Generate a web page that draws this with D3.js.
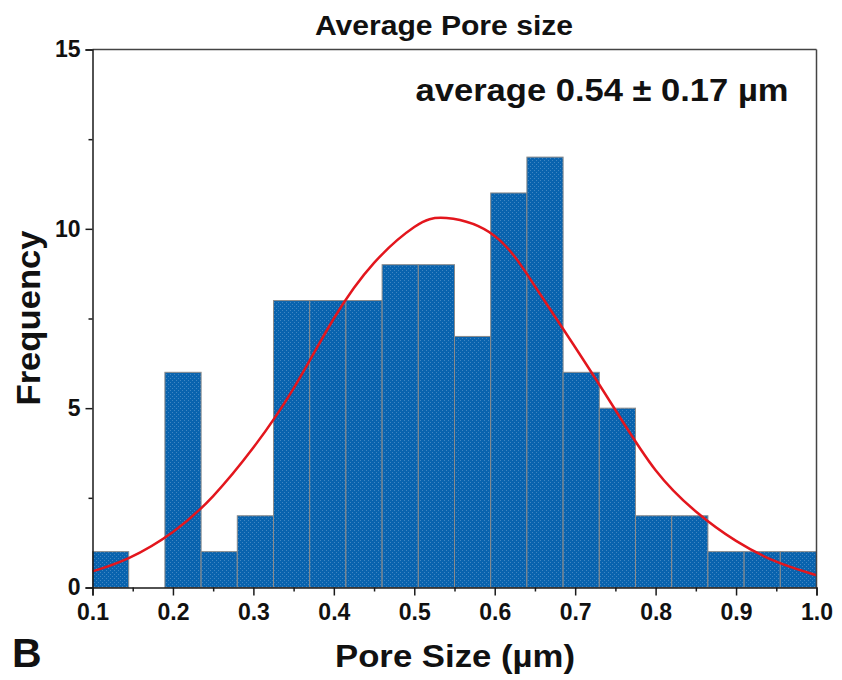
<!DOCTYPE html>
<html>
<head>
<meta charset="utf-8">
<script src="https://cdn.jsdelivr.net/npm/d3@7"></script>
<style>
  body { margin: 0; background: #fff; }
  text { font-family: "Liberation Sans", Arial, sans-serif; font-weight: bold; fill: #111; }
</style>
</head>
<body>
<script>
// histogram bins (pore size, um) and counts
var binEdges = [0.1, 0.145, 0.19, 0.235, 0.28, 0.325, 0.37, 0.415, 0.46, 0.505, 0.55,
                0.595, 0.64, 0.685, 0.73, 0.775, 0.82, 0.865, 0.91, 0.955, 1.0];
var counts = [1, 0, 6, 1, 2, 8, 8, 8, 9, 9, 7, 11, 12, 6, 5, 2, 2, 1, 1, 1];

// fitted curve
var fitX = [0.1, 0.145, 0.2, 0.25, 0.3, 0.35, 0.4, 0.45, 0.5, 0.54, 0.6, 0.65, 0.7, 0.75, 0.8, 0.85, 0.9, 0.95, 1.0];
var fitY = [0.45, 0.82, 1.55, 2.55, 3.9, 5.55, 7.5, 9.05, 10.05, 10.3, 9.8, 8.4, 6.7, 4.95, 3.27, 2.12, 1.3, 0.72, 0.34];

var xMajor = [0.1, 0.2, 0.3, 0.4, 0.5, 0.6, 0.7, 0.8, 0.9, 1.0];
var xMinor = [0.15, 0.25, 0.35, 0.45, 0.55, 0.65, 0.75, 0.85, 0.95];
var yMajor = [0, 5, 10, 15];
var yMinor = [2.5, 7.5, 12.5];

var W = 842, H = 680;
var svg = d3.select("body").append("svg").attr("width", W).attr("height", H);

var x = d3.scaleLinear().domain([0.1, 1.0]).range([92.5, 816.5]);
var y = d3.scaleLinear().domain([0, 15]).range([587.5, 49.5]);

///////////////////////////
// DOTTED FILL PATTERN
var defs = svg.append("defs");
var pat = defs.append("pattern")
  .attr("id", "dots")
  .attr("width", 4).attr("height", 4)
  .attr("patternUnits", "userSpaceOnUse");
pat.append("rect").attr("width", 4).attr("height", 4).attr("fill", "#0963ae");
pat.append("rect").attr("x", 0).attr("y", 0).attr("width", 1).attr("height", 1).attr("fill", "#3f86c2");
pat.append("rect").attr("x", 2).attr("y", 2).attr("width", 1).attr("height", 1).attr("fill", "#3f86c2");

///////////////////////////
// BARS
var bins = counts.map(function(c, i){ return {x0: binEdges[i], x1: binEdges[i+1], n: c}; });
svg.append("g")
  .selectAll("rect")
  .data(bins.filter(function(d){ return d.n > 0; }))
  .enter()
  .append("rect")
  .attr("x", function(d){ return x(d.x0); })
  .attr("y", function(d){ return y(d.n); })
  .attr("width", function(d){ return x(d.x1) - x(d.x0); })
  .attr("height", function(d){ return y(0) - y(d.n); })
  .attr("fill", "url(#dots)")
  .attr("stroke", "#8a8a8a")
  .attr("stroke-width", 1);

///////////////////////////
// FIT CURVE
var line = d3.line()
  .x(function(d, i){ return x(fitX[i]); })
  .y(function(d){ return y(d); })
  .curve(d3.curveNatural);
svg.append("path")
  .attr("d", line(fitY))
  .attr("fill", "none")
  .attr("stroke", "#e3161d")
  .attr("stroke-width", 2.5);

///////////////////////////
// FRAME + AXES
svg.append("line").attr("x1", x(0.1)).attr("x2", x(1.0)).attr("y1", y(15)).attr("y2", y(15))
  .attr("stroke", "#444").attr("stroke-width", 1.5);
svg.append("line").attr("x1", x(1.0)).attr("x2", x(1.0)).attr("y1", y(15)).attr("y2", y(0))
  .attr("stroke", "#444").attr("stroke-width", 1.5);

var xAxis = d3.axisBottom(x).tickValues(xMajor).tickSize(8).tickFormat(d3.format(".1f"));
var gx = svg.append("g").attr("transform", "translate(0," + y(0) + ")").call(xAxis);
gx.selectAll("text").attr("font-size", 23).attr("dy", "0.95em").attr("font-family", null);
svg.append("g").attr("transform", "translate(0," + y(0) + ")")
  .call(d3.axisBottom(x).tickValues(xMinor).tickSize(4).tickFormat(""))
  .select(".domain").remove();

var yAxis = d3.axisLeft(y).tickValues(yMajor).tickSize(7).tickPadding(5);
var gy = svg.append("g").attr("transform", "translate(" + x(0.1) + ",0)").call(yAxis);
gy.selectAll("text").attr("font-size", 23).attr("font-family", null);
svg.append("g").attr("transform", "translate(" + x(0.1) + ",0)")
  .call(d3.axisLeft(y).tickValues(yMinor).tickSize(4).tickFormat(""))
  .select(".domain").remove();

svg.selectAll(".domain, .tick line").attr("stroke", "#1a1a1a").attr("stroke-width", 1.5);

///////////////////////////
// TEXTS
svg.append("text")
  .attr("x", 444).attr("y", 35)
  .attr("text-anchor", "middle")
  .attr("font-size", 27)
  .attr("textLength", 258).attr("lengthAdjust", "spacingAndGlyphs")
  .text("Average Pore size");

svg.append("text")
  .attr("x", 602).attr("y", 101)
  .attr("text-anchor", "middle")
  .attr("font-size", 31)
  .attr("textLength", 373).attr("lengthAdjust", "spacingAndGlyphs")
  .text("average 0.54 \u00b1 0.17 \u00b5m");

svg.append("text")
  .attr("x", 455).attr("y", 667)
  .attr("text-anchor", "middle")
  .attr("font-size", 31)
  .attr("textLength", 240).attr("lengthAdjust", "spacingAndGlyphs")
  .text("Pore Size (\u00b5m)");

svg.append("text")
  .attr("transform", "translate(40,318) rotate(-90)")
  .attr("text-anchor", "middle")
  .attr("font-size", 33)
  .attr("textLength", 175).attr("lengthAdjust", "spacingAndGlyphs")
  .text("Frequency");

svg.append("text")
  .attr("x", 12).attr("y", 667)
  .attr("font-size", 41)
  .text("B");
</script>
</body>
</html>
